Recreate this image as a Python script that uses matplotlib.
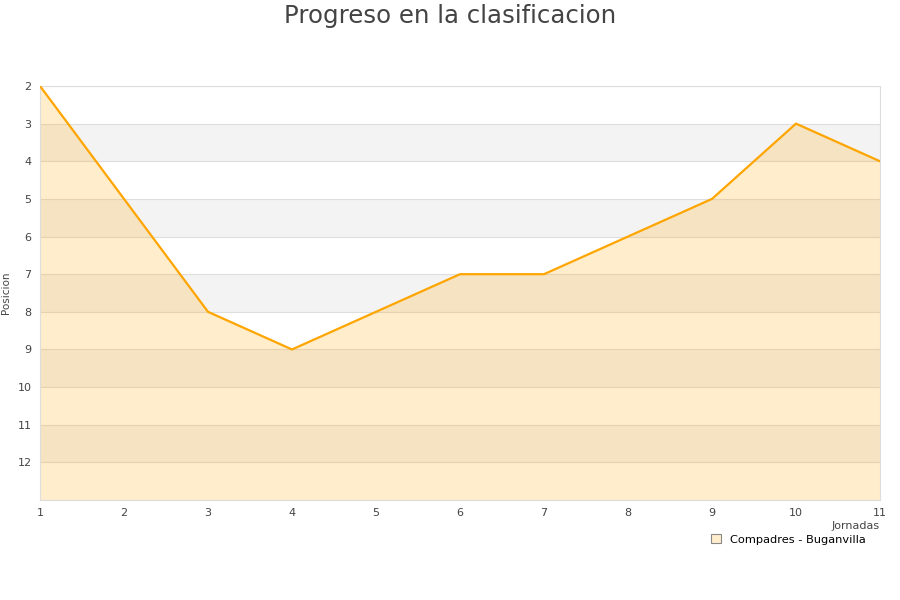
import matplotlib.pyplot as plt
import matplotlib.patches as mpatches
import numpy as np

jornadas = [1, 2, 3, 4, 5, 6, 7, 8, 9, 10, 11]
posicion = [2, 5, 8, 9, 8, 7, 7, 6, 5, 3, 4]
y_ticks = [2, 3, 4, 5, 6, 7, 8, 9, 10, 11, 12]
equipo = "Compadres - Buganvilla"

fig = plt.figure(figsize=(9, 6), dpi=100)
ax = fig.add_axes([40 / 900, 100 / 600, 840 / 900, 414 / 600])

ax.set_xlim(1, 11)
ax.set_ylim(13, 2)

# alternating bands
for y0 in range(3, 13, 2):
    ax.axhspan(y0, y0 + 1, color='#f3f3f3', zorder=0, lw=0)
for y in y_ticks:
    ax.axhline(y, color='#dedede', lw=0.8, zorder=1)

ax.fill_between(jornadas, posicion, 13, color='#ffa500', alpha=0.2, lw=0, zorder=2)
ax.plot(jornadas, posicion, color='#ffa500', lw=1.6, zorder=3)

ax.set_xticks(jornadas)
ax.set_yticks(y_ticks)
ax.tick_params(length=0, labelsize=8, colors='#444444', pad=6)
for s in ax.spines.values():
    s.set_color('#dddddd')

ax.set_ylabel("Posicion", fontsize=7.5, color='#444444')
ax.yaxis.set_label_coords(-29 / 840, 0.5)
ax.set_xlabel("Jornadas", fontsize=8, color='#444444', loc='right', labelpad=2)

fig.suptitle("Progreso en la clasificacion", fontsize=17.6, color='#444444', y=0.993)

handle = mpatches.Patch(facecolor='#ffedcc', edgecolor='#888888', lw=0.8, label=equipo)
leg = fig.legend(handles=[handle], loc='upper left', bbox_to_anchor=(708 / 900, 1 - 531 / 600),
                 fontsize=8.2, frameon=True, handlelength=0.8, handleheight=0.8,
                 borderpad=0.3, handletextpad=0.8, borderaxespad=0)
leg.get_frame().set_edgecolor('white')
leg.get_frame().set_facecolor('white')
leg.get_frame().set_alpha(1)
leg.set_zorder(10)

fig.savefig("out.png")
